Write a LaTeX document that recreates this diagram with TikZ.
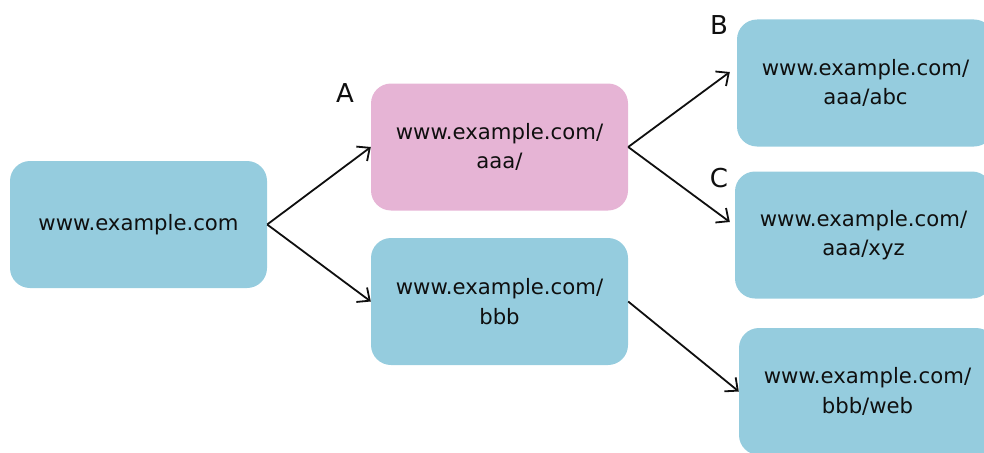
\documentclass[tikz,border=0pt]{standalone}
\usepackage{fontspec}
\setmainfont{DejaVu Sans}
\usetikzlibrary{arrows.meta}
\definecolor{boxblue}{RGB}{149,204,222}
\definecolor{boxpink}{RGB}{230,180,213}
\definecolor{txt}{RGB}{15,15,15}
\begin{document}
\begin{tikzpicture}[x=1pt,y=-1pt,
  urlbox/.style={rectangle, rounded corners=20pt, fill=boxblue, draw=none,
    minimum width=257pt, minimum height=127pt, align=center, inner sep=0pt,
    font=\fontsize{21.2}{29.5}\selectfont, text=txt},
  pinkbox/.style={urlbox, fill=boxpink},
  lbl/.style={font=\fontsize{26}{30}\selectfont, text=txt, inner sep=0pt},
  conn/.style={-{Straight Barb[length=10pt,width=18pt]}, line width=1.8pt, draw=txt}
]
\useasboundingbox (0,0) rectangle (984,452);
\clip (0,0) rectangle (984,452);
\node[urlbox] (root) at (138.5,224.5) {www.example.com};
\node[pinkbox] (a) at (499.5,147) {www.example.com/\\aaa/};
\node[urlbox] (bbb) at (499.5,301.5) {www.example.com/\\bbb};
\node[urlbox] (b) at (865.5,83) {www.example.com/\\aaa/abc};
\node[urlbox] (c) at (863.5,235) {www.example.com/\\aaa/xyz};
\node[urlbox] (web) at (867.5,391.5) {www.example.com/\\bbb/web};
\node[lbl] (la) at (345,93) {A};
\node[lbl] (lb) at (719,25) {B};
\node[lbl] (lc) at (719,178) {C};
\draw[conn] (root.east) -- (a.west);
\draw[conn] (root.east) -- (bbb.west);
\draw[conn] (a.east) -- ([xshift=-7pt,yshift=11pt]b.west);
\draw[conn] (a.east) -- ([xshift=-5pt,yshift=13pt]c.west);
\draw[conn] (bbb.east) -- (web.west);
\end{tikzpicture}
\end{document}
